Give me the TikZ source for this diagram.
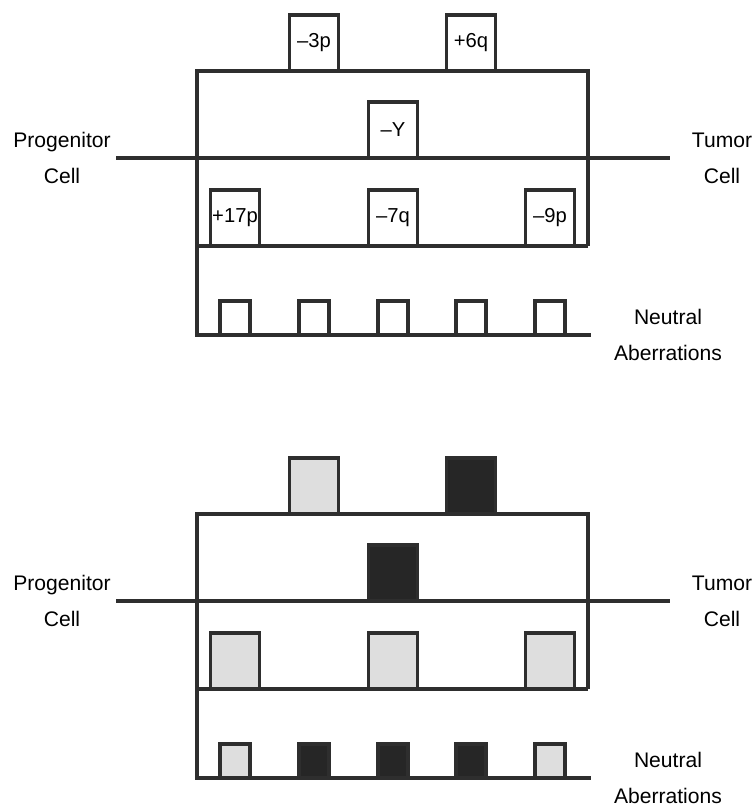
\documentclass[tikz,border=0pt]{standalone}
\usepackage{fontspec}
\setmainfont{Liberation Sans}
\definecolor{ink}{HTML}{2E2E2E}
\definecolor{lightfill}{HTML}{DEDEDE}
\definecolor{darkfill}{HTML}{262626}

\begin{document}
\begin{tikzpicture}[x=0.02cm, y=-0.02cm,
      panel/.style={draw=ink, line width=1.8pt},
      bump/.style={draw=ink, line width=1.8pt, fill=white, anchor=south,
                   inner sep=0pt, outer sep=0pt, minimum width=0.98cm,
                   minimum height=1.12cm, font=\fontsize{11.5}{13}\selectfont},
      small/.style={bump, minimum width=0.6cm, minimum height=0.68cm},
      lite/.style={fill=lightfill},
      dark/.style={fill=darkfill},
      lbl/.style={align=center, font=\fontsize{12}{20.4}\selectfont}]
    \useasboundingbox (0,0) rectangle (754,807);

    % upper panel, labelled
    \coordinate (a-tl) at (197,71);
    \coordinate (a-tr) at (588,71);
    \coordinate (a-ml) at (197,246);
    \coordinate (a-mr) at (588,246);
    \coordinate (a-bl) at (197,335);
    \coordinate (a-br) at (591,335);
    \coordinate (a-in) at (116,158);
    \coordinate (a-out) at (670,158);
    \draw[panel] (a-mr) -- (a-tr) -- (a-tl) -- (a-bl) -- (a-br);
    \draw[panel] (a-ml) -- (a-mr);
    \draw[panel] (a-in) -- (a-out);
    \node[bump] (a-3p)  at (314,71)  {–3p};
    \node[bump] (a-6q)  at (471,71)  {+6q};
    \node[bump] (a-y)   at (393,158) {–Y};
    \node[bump] (a-17p) at (235,246) {+17p};
    \node[bump] (a-7q)  at (393,246) {–7q};
    \node[bump] (a-9p)  at (550,246) {–9p};
    \node[small] (a-n1) at (235,335) {};
    \node[small] (a-n2) at (314,335) {};
    \node[small] (a-n3) at (393,335) {};
    \node[small] (a-n4) at (471,335) {};
    \node[small] (a-n5) at (550,335) {};
    \node[lbl] (a-prog)  at (62,158)  {Progenitor\\Cell};
    \node[lbl] (a-tumor) at (722,158) {Tumor\\Cell};
    \node[lbl] (a-neut)  at (668,335) {Neutral\\Aberrations};

    % lower panel, shaded
    \coordinate (b-tl) at (197,514);
    \coordinate (b-tr) at (588,514);
    \coordinate (b-ml) at (197,689);
    \coordinate (b-mr) at (588,689);
    \coordinate (b-bl) at (197,778);
    \coordinate (b-br) at (591,778);
    \coordinate (b-in) at (116,601);
    \coordinate (b-out) at (670,601);
    \draw[panel] (b-mr) -- (b-tr) -- (b-tl) -- (b-bl) -- (b-br);
    \draw[panel] (b-ml) -- (b-mr);
    \draw[panel] (b-in) -- (b-out);
    \node[bump, lite] (b-3p)  at (314,514) {};
    \node[bump, dark] (b-6q)  at (471,514) {};
    \node[bump, dark] (b-y)   at (393,601) {};
    \node[bump, lite] (b-17p) at (235,689) {};
    \node[bump, lite] (b-7q)  at (393,689) {};
    \node[bump, lite] (b-9p)  at (550,689) {};
    \node[small, lite] (b-n1) at (235,778) {};
    \node[small, dark] (b-n2) at (314,778) {};
    \node[small, dark] (b-n3) at (393,778) {};
    \node[small, dark] (b-n4) at (471,778) {};
    \node[small, lite] (b-n5) at (550,778) {};
    \node[lbl] (b-prog)  at (62,601)  {Progenitor\\Cell};
    \node[lbl] (b-tumor) at (722,601) {Tumor\\Cell};
    \node[lbl] (b-neut)  at (668,778) {Neutral\\Aberrations};
  \end{tikzpicture}
\end{document}
